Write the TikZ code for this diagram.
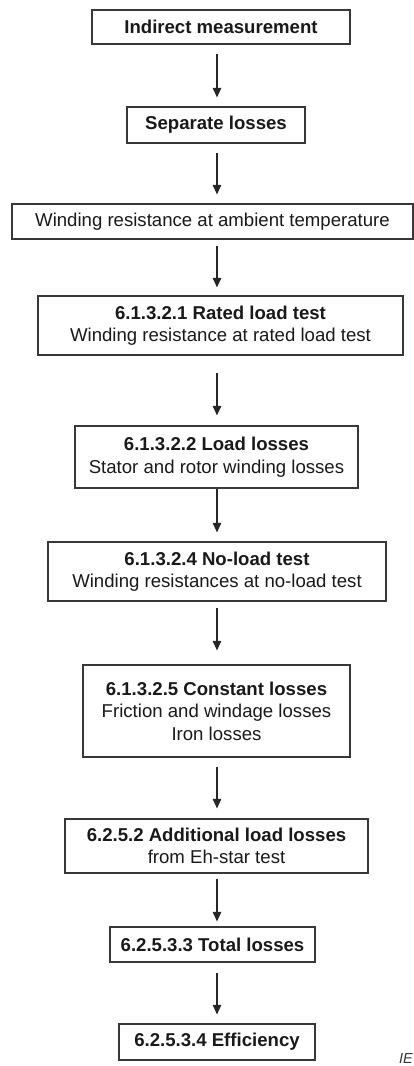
\documentclass[tikz,border=0pt]{standalone}
\usepackage{fontspec}
\setmainfont{Liberation Sans}
\usetikzlibrary{arrows.meta,calc}
\tikzset{
  box/.style={draw=black!78, line width=1.2pt, inner sep=0pt, align=center,
    text=black!90, font=\fontsize{18.6}{22.5}\selectfont},
  arr/.style={draw=black!85, line width=1.1pt, -{Triangle[length=9.5pt,width=8.5pt]}},
}
\begin{document}
\begin{tikzpicture}[x=1pt,y=-1pt]
\useasboundingbox (0,0) rectangle (414,1066);
\coordinate (ax) at (217,0);
\node[box, minimum width=258pt, minimum height=34pt] (b1) at (221,27) {\bfseries Indirect measurement};
\node[box, minimum width=178pt, minimum height=36pt] (b2) at (216,125) {\bfseries Separate losses};
\node[box, minimum width=401pt, minimum height=35pt] (b3) at (212.5,221.5) {Winding resistance at ambient temperature};
\node[box, minimum width=365pt, minimum height=59pt] (b4) at (220.5,325.5) {\textbf{6.1.3.2.1 Rated load test}\\Winding resistance at rated load test};
\node[box, minimum width=283pt, minimum height=62pt] (b5) at (216.5,457) {\textbf{6.1.3.2.2 Load losses}\\Stator and rotor winding losses};
\node[box, minimum width=338pt, minimum height=59pt] (b6) at (217,571.5) {\textbf{6.1.3.2.4 No-load test}\\Winding resistances at no-load test};
\node[box, minimum width=267pt, minimum height=92pt] (b7) at (216.5,711) {\textbf{6.1.3.2.5 Constant losses}\\Friction and windage losses\\Iron losses};
\node[box, minimum width=303pt, minimum height=54pt] (b8) at (216.5,846) {\textbf{6.2.5.2 Additional load losses}\\from Eh-star test};
\node[box, minimum width=205pt, minimum height=35pt] (b9) at (212.5,944.5) {\bfseries 6.2.5.3.3 Total losses};
\node[box, minimum width=196pt, minimum height=36pt] (b10) at (217,1042) {\bfseries 6.2.5.3.4 Efficiency};
\draw[arr] ($(b1.south -| ax)+(0,9)$) -- ($(b2.north -| ax)+(0,-9)$);
\draw[arr] ($(b2.south -| ax)+(0,9)$) -- ($(b3.north -| ax)+(0,-9)$);
\draw[arr] ($(b3.south -| ax)+(0,6)$) -- ($(b4.north -| ax)+(0,-8)$);
\draw[arr] ($(b4.south -| ax)+(0,17)$) -- ($(b5.north -| ax)+(0,-10)$);
\draw[arr] ($(b5.south -| ax)+(0,0.6)$) -- ($(b6.north -| ax)+(0,-9)$);
\draw[arr] ($(b6.south -| ax)+(0,6)$) -- ($(b7.north -| ax)+(0,-14)$);
\draw[arr] ($(b7.south -| ax)+(0,9)$) -- ($(b8.north -| ax)+(0,-10)$);
\draw[arr] ($(b8.south -| ax)+(0,5)$) -- ($(b9.north -| ax)+(0,-5)$);
\draw[arr] ($(b9.south -| ax)+(0,10)$) -- ($(b10.north -| ax)+(0,-9)$);
\node[anchor=base west, inner sep=0pt, text=black!80, font=\fontsize{14.5}{17}\selectfont\itshape] (ie) at (399,1063) {IE};
\end{tikzpicture}
\end{document}
